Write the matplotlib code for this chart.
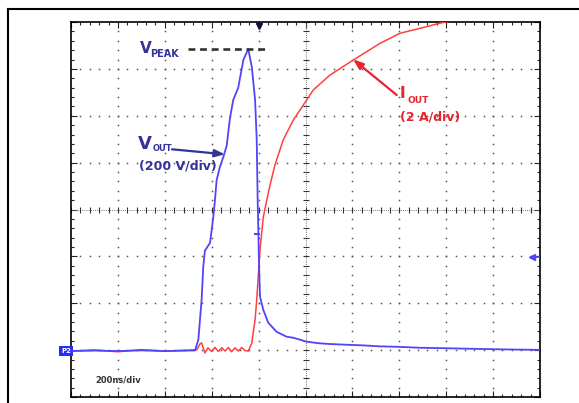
import matplotlib.pyplot as plt
import numpy as np

# Oszilloskop-Aufnahme: V_OUT (blau) und I_OUT (rot), 200 ns/div

NS_PER_DIV = 200.0
V_PER_DIV = 200.0
A_PER_DIV = 2.0
GND_DIV = -3.02        # Nulllinie beider Kanäle (Divisionen ab Bildmitte)
TRIG_NS = 800.0
TRIG_LEVEL_V = 400.0
TRIG_MARK_V = 500.0

# ── Kanal 1: V_OUT ───────────────────────────────────────────
t_vout = [0, 100, 200, 300, 400, 500, 529,
          543, 557, 564, 571, 593, 607, 614, 621, 635, 650, 664, 678, 692, 713, 735, 756,
          771, 785, 792, 796, 799, 802, 806, 820, 841, 877, 920, 947, 1005, 1060, 1105,
          1176, 1250, 1318, 1400, 1488, 1600, 1744, 1850, 2000]
v_out = [0, 2, 0, 3, 0, 2, 3,
         48, 219, 360, 428, 462, 573, 645, 729, 786, 829, 877, 995, 1072, 1123, 1242, 1289,
         1212, 1072, 901, 645, 505, 360, 232, 176, 121, 82, 61, 57, 40, 33, 30,
         27, 24, 20, 18, 14, 12, 9, 7, 5]

# ── Kanal 2: I_OUT ───────────────────────────────────────────
t_iout = [0, 100, 200, 300, 400, 500,
          536, 550, 557, 571, 584, 600, 614, 628, 643, 657, 671, 685, 699, 713, 728, 742, 756,
          771, 777, 785, 792, 806, 820, 835, 849, 870, 905, 948, 991, 1033, 1105, 1204,
          1318, 1403, 1488, 1574, 1744, 2000]
i_out = [0, 0.05, -0.03, 0.06, 0, 0.04,
         0.05, 0.3, 0.35, -0.08, 0.14, -0.02, 0.16, -0.02, 0.14, 0.0, 0.15, -0.03, 0.14, 0.0, 0.15, 0.02, 0.0,
         0.34, 0.78, 1.34, 2.19, 4.32, 5.71, 6.45, 7.09, 7.95, 9.01, 9.86, 10.5, 11.14, 11.78, 12.42,
         13.13, 13.56, 13.77, 13.99, 14.35, 14.8]

BLUE = "#5244f8"
RED = "#ff4040"
TXT_BLUE = "#333399"
TXT_RED = "#e8232b"

W, H = 579, 403
fig = plt.figure(figsize=(W / 100, H / 100), dpi=100)
ax = fig.add_axes([71 / W, 1 - 397 / H, (540 - 71) / W, (397 - 22) / H])


def fpx(x, y):
    # Pixel (von oben links) -> Figure-Koordinaten
    return x / W, 1 - y / H


# ── Raster ───────────────────────────────────────────────────
minor_x = np.arange(0, 10.01, 0.2)
minor_y = np.arange(-4, 4.01, 0.2)
for gx in range(1, 10):
    if gx == 5:
        continue
    ax.plot(np.full_like(minor_y, gx), minor_y, ls="none", marker="s",
            ms=1.1, mew=0, color="#555555")
for gy in range(-3, 4):
    if gy == 0:
        continue
    ax.plot(minor_x, np.full_like(minor_x, gy), ls="none", marker="s",
            ms=1.1, mew=0, color="#555555")

ax.axvline(5, color="#777777", lw=0.7, ls=(0, (1, 1.2)))
ax.axhline(0, color="#777777", lw=0.7, ls=(0, (1, 1.2)))
ax.plot(np.full_like(minor_y, 5), minor_y, ls="none", marker="_", ms=4, mew=0.8, color="#333333")
ax.plot(minor_x, np.zeros_like(minor_x), ls="none", marker="|", ms=4, mew=0.8, color="#333333")

ax.set_xlim(0, 10)
ax.set_ylim(-4, 4)
ax.set_xticks(range(0, 11))
ax.set_xticks(minor_x, minor=True)
ax.set_yticks(range(-4, 5))
ax.set_yticks(minor_y, minor=True)
ax.tick_params(which="both", direction="in", top=True, right=True,
               labelleft=False, labelbottom=False, width=0.8, color="#222222")
ax.tick_params(which="major", length=4)
ax.tick_params(which="minor", length=2.5)
for s in ax.spines.values():
    s.set_linewidth(1.2)

# ── Kurven ───────────────────────────────────────────────────
ax.plot(np.array(t_iout) / NS_PER_DIV, np.array(i_out) / A_PER_DIV + GND_DIV,
        color=RED, lw=1.1, zorder=3)
ax.plot(np.array(t_vout) / NS_PER_DIV, np.array(v_out) / V_PER_DIV + GND_DIV,
        color=BLUE, lw=1.3, zorder=4)

# V_PEAK Linie
peak = max(v_out) / V_PER_DIV + GND_DIV
ax.plot([2.49, 4.22], [peak, peak], color="#333333", lw=1.9, ls=(0, (2.6, 1.8)), zorder=5)

# Trigger-Markierungen
ax.plot(TRIG_NS / NS_PER_DIV, 3.92, marker="v", ms=5, color="#101040", clip_on=False, zorder=6)
ax.plot(TRIG_NS / NS_PER_DIV - 0.03, TRIG_MARK_V / V_PER_DIV + GND_DIV, marker="_",
        ms=5, mew=1.5, color=BLUE, zorder=5)
lvl = TRIG_LEVEL_V / V_PER_DIV + GND_DIV
ax.plot([9.8, 10], [lvl, lvl], color=BLUE, lw=1.2, zorder=5)
ax.plot(9.84, lvl, marker="<", ms=4, color=BLUE, zorder=5)

# Massemarker links
ax.text(0, GND_DIV, "P2", ha="right", va="center", fontsize=5, fontweight="bold",
        color="white", clip_on=False,
        bbox=dict(boxstyle="square,pad=0.25", fc="#2a2aff", ec="none"))

# ── Beschriftungen ───────────────────────────────────────────
fig.text(*fpx(140, 53), "V", color=TXT_BLUE, fontsize=11, fontweight="bold", va="baseline")
fig.text(*fpx(150, 57), "PEAK", color=TXT_BLUE, fontsize=7, fontweight="bold", va="baseline")

fig.text(*fpx(138, 149), "V", color=TXT_BLUE, fontsize=13, fontweight="bold", va="baseline")
fig.text(*fpx(153, 151), "OUT", color=TXT_BLUE, fontsize=6, fontweight="bold", va="baseline")
fig.text(*fpx(139, 165.5), "(200 V/div)", color=TXT_BLUE, fontsize=9, fontweight="bold", va="center")
ax.annotate("", xy=fpx(225, 154.3), xycoords="figure fraction",
            xytext=fpx(172, 149.3), textcoords="figure fraction",
            arrowprops=dict(arrowstyle="-|>,head_length=0.6,head_width=0.22",
                            color=TXT_BLUE, lw=1.6, shrinkA=0, shrinkB=0))

fig.text(*fpx(399.5, 98.3), "I", color=TXT_RED, fontsize=11, fontweight="bold", va="baseline")
fig.text(*fpx(408, 102.7), "OUT", color=TXT_RED, fontsize=6.5, fontweight="bold", va="baseline")
fig.text(*fpx(399.5, 117), "(2 A/div)", color=TXT_RED, fontsize=9, fontweight="bold", va="center")
ax.annotate("", xy=fpx(353, 59.3), xycoords="figure fraction",
            xytext=fpx(396.7, 95), textcoords="figure fraction",
            arrowprops=dict(arrowstyle="-|>,head_length=0.6,head_width=0.22",
                            color=TXT_RED, lw=1.6, shrinkA=0, shrinkB=0))

fig.text(*fpx(95, 380), "200ns/div", color="#333333", fontsize=6, fontweight="bold", va="center")

# ── äußerer Rahmen ───────────────────────────────────────────
fig.add_artist(plt.Line2D([8 / W, 1], [1 - 9 / H, 1 - 9 / H], color="black", lw=1.5,
                          transform=fig.transFigure))
fig.add_artist(plt.Line2D([8 / W, 8 / W], [0, 1 - 9 / H], color="black", lw=1.5,
                          transform=fig.transFigure))

fig.savefig("out.png", dpi=100)
